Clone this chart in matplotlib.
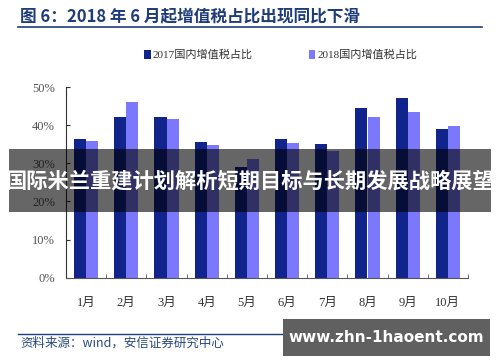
import matplotlib
matplotlib.use('Agg')
import matplotlib.pyplot as plt
import numpy as np

months = ['1月', '2月', '3月', '4月', '5月', '6月', '7月', '8月', '9月', '10月']
share_2017 = [36.5, 42.1, 42.1, 35.5, 29.0, 36.5, 35.2, 44.5, 47.2, 39.0]
share_2018 = [36.0, 46.0, 41.7, 34.9, 31.2, 35.3, 33.3, 42.1, 43.5, 39.7]
y_ticks = [0, 10, 20, 30, 40, 50]

title = '图 6：2018 年 6 月起增值税占比出现同比下滑'
source = '资料来源：wind，安信证券研究中心'
banner = '国际米兰重建计划解析短期目标与长期发展战略展望'
watermark = 'www.zhn-1haoent.com'

serif = ['Liberation Serif', 'Noto Sans CJK SC']
cjk = ['Noto Sans CJK SC', 'DejaVu Sans']

c2017 = '#10248c'
c2018 = '#7b78fc'
navy = '#1f3c7a'

fig = plt.figure(figsize=(5, 3.62), dpi=100)
ax = fig.add_axes([0.132, 0.233, 0.804, 0.526])

x = np.arange(len(months))
w = 0.3
ax.bar(x - w / 2, share_2017, w, color=c2017, label='2017国内增值税占比')
ax.bar(x + w / 2, share_2018, w, color=c2018, label='2018国内增值税占比')

ax.set_xlim(-0.5, len(months) - 0.5)
ax.set_ylim(0, 50)
ax.set_yticks(y_ticks)
ax.set_yticklabels(['%d%%' % v for v in y_ticks], family=serif, fontsize=9, color='#555555')
ax.set_xticks(x)
ax.set_xticklabels(months, family=serif, fontsize=9, color='#333333')
ax.tick_params(axis='y', direction='in', length=3, color='#333333', pad=8)
ax.tick_params(axis='x', length=0, pad=14)
# category boundary ticks pointing up
ax.set_xticks(np.arange(-0.5, len(months)), minor=True)
ax.tick_params(axis='x', which='minor', direction='in', length=3, color='#555555')
for s in ['top', 'right']:
    ax.spines[s].set_visible(False)
ax.spines['left'].set_color('#333333')
ax.spines['bottom'].set_color('#555555')

leg = fig.legend(loc='upper left', bbox_to_anchor=(0.268, 0.89), ncol=2, frameon=False,
                 prop={'family': serif, 'size': 8}, handlelength=0.6, handleheight=0.9,
                 handletextpad=0.2, columnspacing=5.0)
for t in leg.get_texts():
    t.set_color('#333333')

# title and rules
fig.text(0.04, 0.955, title, family=cjk, fontsize=12, fontweight='bold', color=navy, va='center')
fig.add_artist(plt.Line2D([0.036, 0.964], [0.925, 0.925], color=navy, lw=1.2))
fig.add_artist(plt.Line2D([0.036, 0.58], [0.077, 0.077], color=navy, lw=1.0))
fig.text(0.04, 0.052, source, family=cjk, fontsize=9, style='italic', color='#2a4a7f', va='center')

# overlay banner
fig.patches.append(plt.Rectangle((0.018, 0.413), 0.964, 0.176, transform=fig.transFigure,
                                 facecolor='black', alpha=0.6, zorder=5))
fig.text(0.5, 0.501, banner, family=cjk, fontsize=15.3, fontweight='bold', color='white',
         ha='center', va='center', zorder=6)

# watermark box
fig.patches.append(plt.Rectangle((0.566, 0.017), 0.414, 0.102, transform=fig.transFigure,
                                 facecolor='#606060', zorder=5))
fig.text(0.773, 0.068, watermark, family=['DejaVu Sans'], fontsize=11, fontweight='bold',
         color='white', ha='center', va='center', zorder=6)

fig.savefig('out.png', dpi=100)
